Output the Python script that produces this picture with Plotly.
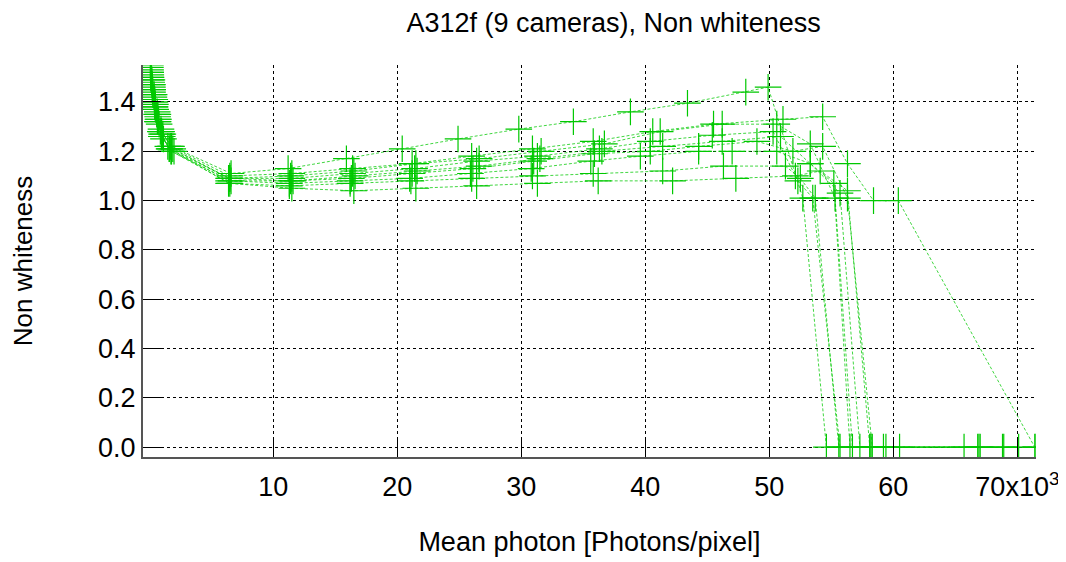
import plotly.graph_objects as go

# Mean photon values in thousands of photons/pixel, non-whiteness values
cam1_x = [0.12, 0.25, 0.45, 0.7, 1.0, 1.8, 6.6, 11.2, 15.9, 20.4, 24.9, 29.8, 34.2, 38.8, 43.4, 48.1, 49.9, 52.7, 54.6, 59.2, 65.7]
cam1_y = [1.52, 1.47, 1.41, 1.35, 1.28, 1.22, 1.11, 1.13, 1.17, 1.21, 1.25, 1.29, 1.32, 1.36, 1.395, 1.44, 1.46, 1.01, 0, 0, 0]

cam2_x = [0.1, 0.22, 0.4, 0.65, 0.95, 1.7, 6.5, 11.5, 16.4, 21.2, 26.0, 30.9, 35.8, 40.6, 45.5, 51.1, 54.3, 56.3, 58.4, 60.4, 71.4]
cam2_y = [1.55, 1.49, 1.43, 1.36, 1.29, 1.22, 1.10, 1.11, 1.13, 1.15, 1.18, 1.21, 1.24, 1.28, 1.31, 1.33, 1.34, 1.15, 1.0, 1.0, 0]

cam3_x = [0.14, 0.28, 0.5, 0.75, 1.1, 1.9, 6.4, 11.4, 16.5, 21.5, 26.6, 31.6, 36.7, 41.2, 46.2, 50.6, 53.3, 55.3, 56.7, 58.1, 66.9]
cam3_y = [1.50, 1.45, 1.39, 1.33, 1.27, 1.21, 1.09, 1.10, 1.12, 1.15, 1.17, 1.20, 1.23, 1.28, 1.31, 1.31, 1.23, 1.01, 0, 0, 0]

cam4_x = [0.11, 0.24, 0.42, 0.68, 1.0, 1.6, 6.5, 11.5, 16.4, 21.4, 26.4, 31.3, 36.3, 40.4, 45.4, 50.3, 52.3, 53.5, 55.7, 58.2, 68.8]
cam4_y = [1.53, 1.47, 1.40, 1.34, 1.27, 1.21, 1.09, 1.09, 1.11, 1.13, 1.16, 1.18, 1.21, 1.24, 1.265, 1.28, 1.08, 1.01, 0, 0, 0]

cam5_x = [0.13, 0.27, 0.48, 0.72, 1.05, 1.75, 6.6, 11.6, 16.6, 21.6, 26.6, 31.5, 36.5, 41.4, 46.2, 50.9, 53.3, 55.2, 56.5, 59.4, 70.1]
cam5_y = [1.51, 1.44, 1.38, 1.32, 1.26, 1.20, 1.08, 1.08, 1.10, 1.12, 1.14, 1.17, 1.20, 1.22, 1.24, 1.26, 1.15, 1.07, 0, 0, 0]

cam6_x = [0.1, 0.2, 0.38, 0.6, 0.9, 1.5, 6.5, 11.4, 16.3, 21.2, 26.1, 31.0, 35.9, 40.4, 44.3, 49.0, 51.9, 54.3, 56.3, 58.3, 66.8]
cam6_y = [1.54, 1.48, 1.42, 1.35, 1.28, 1.22, 1.09, 1.08, 1.09, 1.11, 1.13, 1.16, 1.19, 1.20, 1.22, 1.24, 1.20, 1.22, 1.01, 0, 0]

cam7_x = [0.15, 0.3, 0.52, 0.8, 1.15, 2.0, 6.4, 11.3, 16.2, 21.0, 25.9, 30.8, 35.6, 39.6, 44.3, 47.0, 50.6, 53.3, 55.7, 57.3, 67.0]
cam7_y = [1.49, 1.43, 1.37, 1.31, 1.25, 1.20, 1.08, 1.07, 1.08, 1.09, 1.11, 1.13, 1.16, 1.18, 1.20, 1.20, 1.20, 1.15, 1.03, 0, 0]

cam8_x = [0.12, 0.26, 0.46, 0.7, 1.02, 1.65, 6.4, 11.3, 16.2, 21.1, 26.0, 30.9, 35.8, 41.4, 46.3, 51.3, 52.5, 53.7, 55.6, 60.5, 68.9]
cam8_y = [1.52, 1.46, 1.40, 1.33, 1.26, 1.21, 1.07, 1.06, 1.07, 1.08, 1.09, 1.10, 1.11, 1.12, 1.14, 1.14, 1.09, 1.01, 0, 0, 0]

cam9_x = [0.13, 0.25, 0.44, 0.66, 0.98, 1.8, 6.5, 11.5, 16.5, 21.5, 26.4, 31.3, 36.2, 42.2, 47.3, 52.1, 54.1, 56.3, 58.1, 71.5]
cam9_y = [1.50, 1.45, 1.38, 1.32, 1.26, 1.20, 1.07, 1.05, 1.04, 1.05, 1.06, 1.07, 1.08, 1.08, 1.09, 1.10, 1.12, 1.04, 0, 0]

series_x = [cam1_x, cam2_x, cam3_x, cam4_x, cam5_x, cam6_x, cam7_x, cam8_x, cam9_x]
series_y = [cam1_y, cam2_y, cam3_y, cam4_y, cam5_y, cam6_y, cam7_y, cam8_y, cam9_y]

x_tick_vals = [10, 20, 30, 40, 50, 60, 70]
x_tick_text = ["10", "20", "30", "40", "50", "60", "70x10<sup>3</sup>"]
y_tick_vals = [0.0, 0.2, 0.4, 0.6, 0.8, 1.0, 1.2, 1.4]
y_tick_text = ["0.0", "0.2", "0.4", "0.6", "0.8", "1.0", "1.2", "1.4"]

FONT = "Liberation Sans, Arial, sans-serif"
GREEN = "rgb(0,200,0)"
fig = go.Figure()
for sx, sy in zip(series_x, series_y):
    fig.add_trace(go.Scatter(
        x=sx, y=sy, mode="lines+markers",
        line=dict(color="rgba(0,200,0,0.75)", width=1, dash="3px,2px"),
        marker=dict(symbol="cross-thin", size=19,
                    line=dict(color=GREEN, width=1.2)),
        showlegend=False,
    ))

axis_common = dict(
    showgrid=True, gridcolor="black", gridwidth=1, griddash="3px,3px",
    zeroline=False, showline=True, linecolor="#555555", linewidth=2,
    ticks="inside", ticklen=18, tickcolor="black", tickwidth=1,
    tickfont=dict(family=FONT, size=27, color="black"),
    mirror=False, automargin=False,
)

fig.update_layout(
    width=1066, height=562,
    paper_bgcolor="white", plot_bgcolor="white",
    margin=dict(l=135, r=38, t=57, b=113),
    font=dict(family=FONT, color="black"),
    title=dict(text="A312f (9 cameras), Non whiteness", x=0.527, xref="paper",
               xanchor="center", y=0.975, yanchor="middle",
               font=dict(size=27, color="black")),
    xaxis=dict(range=[-0.5, 71.5], tickvals=x_tick_vals, ticktext=x_tick_text,
               ticklabelstandoff=5,
               title=dict(text="Mean photon [Photons/pixel]", font=dict(size=27), standoff=31),
               **axis_common),
    yaxis=dict(range=[-0.04, 1.55], tickvals=y_tick_vals, ticktext=y_tick_text,
               title=dict(text="Non whiteness", font=dict(size=26), standoff=60),
               **axis_common),
)

fig.write_html("out.html")
